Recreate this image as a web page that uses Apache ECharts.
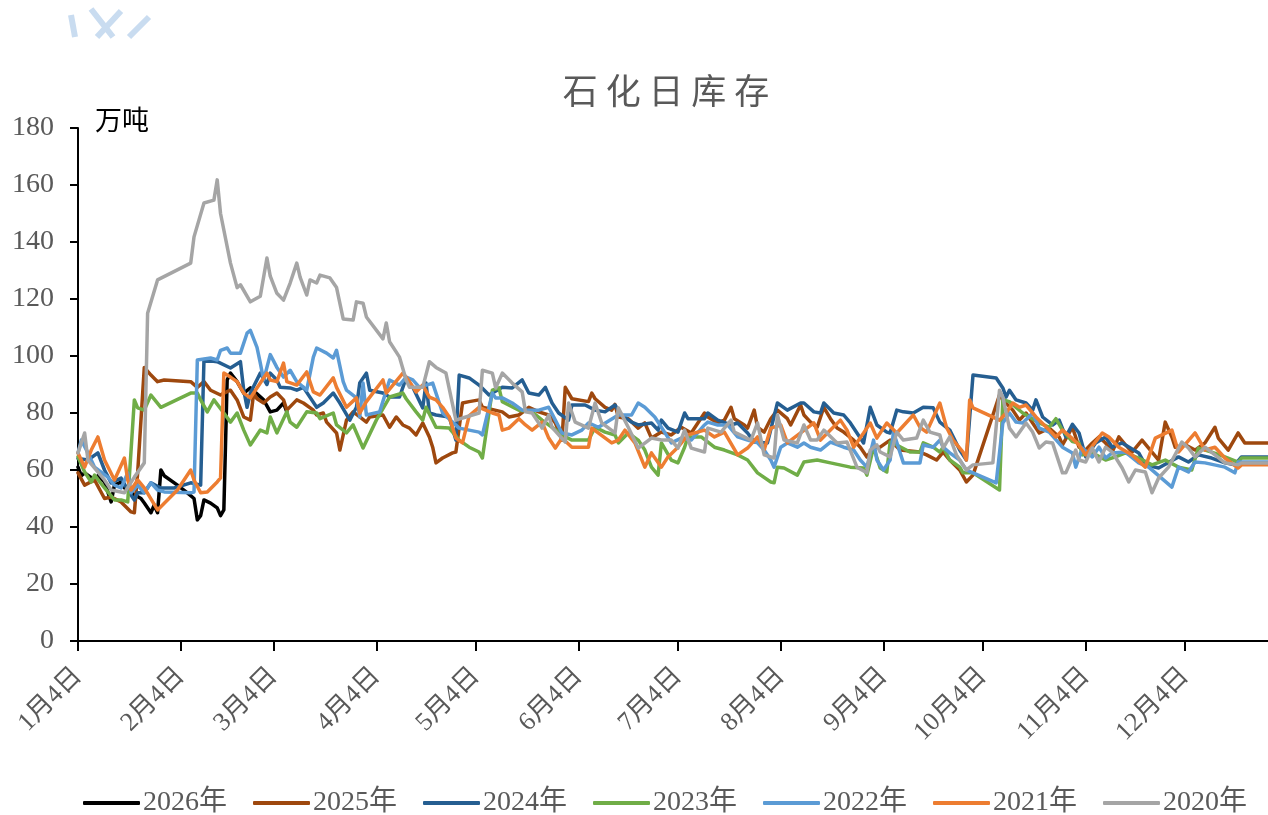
<!DOCTYPE html>
<html>
<head>
<meta charset="utf-8">
<script src="https://cdn.jsdelivr.net/npm/echarts@6/dist/echarts.min.js"></script>
<style>
  html, body { margin: 0; padding: 0; background: #fff; }
  #main { width: 1268px; height: 815px; }
</style>
</head>
<body>
<div id="main"></div>
<script>
// 横轴：距1月4日的天数；刻度标签
var tickDays = [0, 31, 59, 90, 120, 151, 181, 212, 243, 273, 304, 334];
var tickLabels = ['1月4日', '2月4日', '3月4日', '4月4日', '5月4日', '6月4日',
                  '7月4日', '8月4日', '9月4日', '10月4日', '11月4日', '12月4日'];
var yearNames = ['2026年', '2025年', '2024年', '2023年', '2022年', '2021年', '2020年'];
var yearColors = ['#000000', '#9E480E', '#255E91', '#70AD47', '#5B9BD5', '#ED7D31', '#A5A5A5'];

// 各年石化日库存（万吨），[天数, 数值]
var d2026 = [[0,61],[1,58],[2,59],[5,56.5],[6,58],[8,55.8],[10,48.8],[11,54.7],[13,55.8],[14,53.7],[16,52],[19,50],[20,48.4],[22,45],[23,47.7],[24,45],[25,60],[26,58],[30,54.7],[33,52],[35,50],[36,42.5],[37,44],[38,49.5],[40,48.4],[42,46.7],[43,44],[44,46],[45,91.6],[46,94],[48,91],[50,87],[52,88.8],[56,84.6],[58,80.4],[60,81],[62,83.5],[63,80.4]];

var d2025 = [[0,59],[2,54.7],[5,56.5],[8,50],[10,50.5],[13,48.8],[16,45.3],[17,45],[18,59],[20,96],[22,93.3],[24,91],[26,91.6],[34,91],[36,89],[38,91],[40,88],[43,86.3],[44,87],[46,88],[48,84.6],[50,78.6],[52,77.5],[53,87],[54,85],[56,83.5],[58,85.6],[60,87],[62,84.6],[63,81],[66,84.6],[68,83.5],[71,81],[72,79.3],[74,80],[75,76.8],[78,73],[79,67],[81,77.5],[83,80.4],[85,78.6],[87,76.8],[88,78.6],[92,79.3],[94,75],[96,78.6],[98,75.8],[100,74.7],[102,72.3],[104,76.5],[106,71.6],[107,68],[108,62.5],[110,64.2],[113,66],[114,66.3],[116,83.5],[118,84],[121,84.6],[122,82],[128,80.4],[130,78.6],[133,79.3],[136,82],[139,80.4],[142,79.3],[144,76.5],[146,70.5],[147,89],[149,85],[154,84],[155,87],[156,85],[159,82],[161,81],[162,83],[163,78.6],[166,78],[169,74.7],[171,76.5],[173,71.2],[176,73.3],[179,72.3],[182,75],[185,73],[189,80],[190,78.6],[193,76.5],[195,77.5],[197,82],[198,78],[201,75.8],[202,74.7],[204,81],[205,75],[207,73.3],[209,78],[211,81],[214,78],[215,75.8],[218,82.8],[219,79.3],[221,76.8],[223,75],[225,82],[227,78],[229,74.7],[231,73.3],[234,70.5],[236,68],[238,64.6],[240,68],[242,68],[245,70.5],[248,67],[254,66.3],[256,65.3],[259,63.5],[261,66.3],[263,63.5],[266,60],[268,55.8],[270,58.2],[278,86.3],[279,84.6],[282,81],[284,77.5],[286,80],[288,76.5],[290,73],[293,74.7],[296,71.6],[297,68.8],[300,75],[302,68],[304,67],[306,69.5],[308,71.6],[310,69.5],[312,66.3],[314,71.6],[316,68.8],[318,66.3],[321,70.5],[324,66.3],[326,63.5],[328,76.8],[330,71.6],[331,68],[334,68.8],[337,67],[340,69.5],[343,75],[344,71.2],[347,67],[350,73],[352,69.5],[359,69.5]];

var d2024 = [[0,64],[3,63.5],[6,66],[8,60],[10,55.5],[13,57.2],[15,53],[17,49.5],[18,52],[20,52],[22,55.5],[25,53.7],[29,53.7],[34,55.5],[37,54.7],[38,98.6],[42,98],[46,95.8],[49,98],[50,88],[51,82],[52,87],[55,94],[57,90],[58,94],[60,91.6],[61,89],[64,88.8],[66,88],[68,89],[72,82],[74,83.5],[77,87],[79,83.5],[82,77.5],[84,82],[85,90.5],[87,94],[88,88],[92,87],[94,85.6],[97,85.6],[99,92.3],[101,89],[104,81.8],[105,90.5],[106,80],[108,79.3],[112,78.6],[114,70.5],[115,93.3],[118,92.3],[121,89.8],[124,86.3],[128,89],[131,88.8],[134,91.6],[136,87],[139,86.3],[141,89],[143,83.5],[145,80],[148,77.5],[149,82.8],[153,82.8],[156,81],[159,80.4],[162,82.8],[164,79.3],[167,76.8],[169,75.8],[173,76.5],[175,74],[176,77.5],[178,74.7],[181,73.3],[183,80],[184,78],[189,78],[190,80],[193,77.5],[197,75.8],[199,76.5],[202,73],[204,69.8],[208,69.5],[211,83.5],[214,81],[218,83.5],[219,83.5],[222,80.4],[224,80],[225,83.5],[228,80],[231,79.3],[233,76.5],[237,69.5],[239,82],[241,75.8],[244,73.3],[245,73],[247,81],[249,80.4],[252,80],[255,82],[258,81.8],[260,76.8],[263,74],[266,67],[268,63.5],[270,93.3],[277,92.3],[279,88.8],[280,85.6],[281,88],[283,84.6],[286,83.5],[288,81],[289,84.6],[291,78.6],[294,75.8],[296,77.5],[298,71.6],[300,76],[302,73],[304,64.6],[307,69.5],[310,71.6],[312,68],[315,69.5],[320,66],[322,61.8],[326,60.7],[332,64.6],[335,62.8],[338,65.3],[342,64.2],[346,62.5],[349,61.8],[351,64.6],[359,64.6]];

var d2023 = [[0,64.6],[2,59.3],[4,55.8],[5,58.2],[8,53.7],[11,49.5],[13,49.5],[15,48.8],[17,84.6],[18,81.8],[20,81],[22,86.3],[25,82],[34,87],[36,87],[37,84.6],[39,80.4],[41,84.6],[44,80],[46,76.8],[48,80],[50,74],[52,68.8],[55,74],[57,73],[58,78.6],[60,73],[63,80.4],[64,76.8],[66,75],[69,80.4],[72,80],[73,78],[77,80],[78,75.8],[81,73],[83,75.8],[86,67.7],[90,77.5],[94,85.6],[98,87],[99,85],[102,80.4],[104,77.5],[105,82],[108,75],[112,74.7],[115,70.5],[118,68],[121,66.3],[122,64.2],[125,88],[127,88.8],[128,84],[133,81],[137,80.4],[140,77.5],[143,75],[146,72.3],[149,70.5],[154,70.5],[156,75],[159,73.3],[162,72.3],[163,69.5],[166,73],[169,70.5],[171,67],[173,61],[175,58.2],[176,69.5],[179,63.5],[181,62.5],[183,68],[184,71.6],[188,71.6],[192,68],[195,67],[199,65.3],[202,63.5],[205,59],[209,55.8],[210,55.5],[211,61],[213,60.7],[217,58.2],[219,62.8],[223,63.5],[227,62.5],[233,61],[237,60.7],[238,58.2],[240,68],[242,60.7],[244,59.3],[245,69.8],[247,68.8],[251,66.3],[254,66.3],[255,69.5],[258,68],[260,66.3],[261,68],[263,63.5],[266,61],[267,59],[270,59],[278,53],[279,84.6],[281,84],[283,82],[285,80],[290,76.5],[293,75],[295,78],[297,74],[300,70],[302,69.5],[303,65.3],[306,66],[310,63.5],[313,64.6],[316,66],[320,64.2],[324,61.8],[328,63.5],[332,61],[336,60],[338,67.7],[342,66.3],[346,64.6],[350,62.8],[351,64.2],[359,64.2]];

var d2022 = [[0,66],[1,70.5],[3,66],[5,61],[9,57.5],[11,54.7],[13,53.7],[15,59],[16,52],[18,54.7],[20,52],[22,55.5],[24,53],[26,52.3],[34,52],[35,52.3],[36,98.6],[40,99.3],[42,98.6],[43,102],[45,102.8],[46,101],[49,101],[51,108],[52,109],[54,103],[55,97.5],[56,91.6],[58,100.5],[60,96],[62,92.6],[64,95],[66,91],[69,88],[71,99.6],[72,102.8],[75,101],[77,99.3],[78,102],[80,91],[81,88],[84,85.3],[85,78.6],[86,90.5],[87,79.3],[91,80.4],[94,91.6],[97,89.8],[99,92.6],[101,91.6],[103,89],[107,90.5],[110,80],[115,74.7],[118,74],[121,73.3],[122,72.3],[125,87],[126,85.3],[128,85.3],[131,83.5],[134,81],[137,81],[139,81],[142,82],[144,77.5],[146,73],[149,72.3],[152,74],[154,76.5],[157,75],[163,79.3],[167,79.3],[169,83.5],[171,82],[174,78.6],[176,75],[179,69.5],[182,71.2],[185,70.5],[189,75.8],[190,76.8],[193,75.8],[196,75.8],[199,71.6],[202,70.5],[205,69.5],[207,67],[209,63.5],[210,61],[212,68],[214,69.5],[217,68],[219,69.5],[221,68],[224,67],[227,69.8],[231,68],[234,67],[236,63.5],[238,61],[240,70.5],[241,63.5],[243,60],[245,63.5],[246,73.3],[249,62.5],[254,62.5],[255,68.8],[258,68],[260,70.5],[261,68],[263,66],[266,63.5],[268,60],[270,59],[277,55.5],[279,76.5],[281,80],[283,76.8],[285,76.5],[288,80],[290,74.7],[293,73.3],[297,68],[300,66],[301,61],[303,67.7],[306,64.6],[308,68],[310,64.2],[312,66],[316,66.3],[320,62.5],[323,61],[330,54],[332,61],[335,59.3],[337,62.8],[340,62.5],[346,61],[349,59],[350,62.8],[359,62.8]];

var d2021 = [[0,66],[2,61],[4,67],[6,71.6],[8,63.5],[11,56.5],[12,59],[14,64.2],[15,56.5],[16,53],[18,56.5],[20,53.7],[24,46],[27,49.5],[30,53],[34,60],[35,56.5],[37,52],[39,52.3],[42,55.8],[43,57.2],[44,94],[46,92.6],[48,91],[50,87],[52,85.3],[55,90.5],[57,94],[58,91.6],[60,91],[62,97.5],[63,91],[66,89.8],[69,94.4],[71,87.4],[73,86.3],[77,92.3],[78,89],[81,82],[84,85.3],[85,80],[87,84],[92,91.6],[93,87],[98,94],[100,91],[102,87.4],[104,89.8],[106,85.6],[108,84.6],[110,82],[112,78.6],[114,71.2],[116,69.5],[118,79],[121,82],[123,81],[125,80],[127,79.3],[128,74],[130,74.7],[133,78],[135,75.8],[137,74],[140,76.8],[142,71.2],[144,67.7],[146,71.2],[149,68],[154,68],[155,74.7],[161,69.5],[163,70.5],[165,74],[168,69.5],[171,61],[173,66],[176,61],[178,64.6],[181,68],[184,72.3],[189,74],[192,71.6],[195,73.3],[199,65.3],[202,67.7],[205,71.6],[207,67],[209,74.7],[212,75.8],[214,69.5],[222,76.5],[224,70.5],[227,74],[230,77.5],[232,74],[234,68],[237,73],[239,76.5],[241,71.2],[244,76.5],[247,73],[252,79.3],[254,75],[256,73.3],[260,83.5],[262,75],[264,70.5],[267,66.3],[268,63.5],[269,84.6],[270,81.8],[278,77.5],[280,80],[282,83.5],[284,82],[286,82.8],[289,78.6],[293,74],[295,71.6],[297,74],[300,71],[302,68.8],[304,65.3],[309,73],[311,71.6],[314,68],[318,65.3],[322,61],[325,71.2],[330,74],[332,66.3],[337,73],[340,67],[343,68],[346,64.2],[350,60.7],[351,61.8],[359,61.8]];

var d2020 = [[0,66],[2,73],[3,63.5],[8,56.5],[10,53],[14,52],[17,57.5],[20,62.5],[21,115],[24,126.7],[34,132.6],[35,141.8],[38,153.7],[41,154.7],[42,161.8],[43,150],[46,132.6],[48,124],[49,125],[52,119],[55,121],[57,134.4],[58,128],[60,122],[62,119.6],[64,125.6],[66,132.6],[67,127.7],[69,121.4],[70,126.7],[72,125.6],[73,128.4],[76,127.4],[78,124],[80,113],[83,112.6],[84,119],[86,118.5],[87,113.7],[92,106],[93,111.6],[94,105],[97,99.6],[99,91.6],[100,89],[104,89],[106,98],[108,96],[111,94],[114,77.5],[117,78.6],[121,80],[122,95],[125,94],[126,88.8],[128,94],[131,90.5],[134,87.4],[135,80.4],[137,80],[140,74.7],[142,79.3],[143,75],[147,69.8],[148,83.5],[150,76.8],[154,74.7],[156,83.5],[158,76.5],[162,73],[163,81.8],[166,75],[169,67.7],[173,71.2],[176,70.5],[179,70.5],[181,67.7],[183,74],[185,67.7],[189,66.3],[190,74.7],[194,73.3],[197,77.5],[198,73.3],[203,70.5],[205,76.5],[207,65.3],[210,64.2],[211,79.3],[213,70.5],[217,69.5],[219,75.8],[221,70.5],[223,70.5],[225,74],[229,69.5],[232,69.8],[235,61],[238,59],[239,67],[241,68.8],[242,66.3],[245,64.6],[247,73.3],[249,70.5],[253,71.2],[255,77.5],[257,73.3],[260,72.3],[261,67.7],[263,71.6],[265,65.3],[268,60],[270,61.8],[276,62.5],[278,88],[279,85.6],[281,74.7],[283,71.6],[286,76.5],[288,73.3],[290,67.7],[292,69.8],[294,69.5],[297,59],[298,59],[301,67],[302,63.5],[304,62.8],[306,67.7],[308,62.8],[310,68],[312,66.3],[315,60.7],[317,55.8],[319,60],[322,59.3],[324,52],[326,57.2],[329,61],[333,69.8],[335,67.7],[337,64.6],[340,68],[343,65.3],[346,62.5],[350,61.8],[351,62.5],[359,62.5]];

var yearData = [d2026, d2025, d2024, d2023, d2022, d2021, d2020];

function createChart() {
    var myChart = echarts.init(document.getElementById('main'));
    var serifFont = '"Liberation Serif", "Noto Sans CJK SC", serif';

    var series = [];
    for (var i = 0; i < yearNames.length; i++) {
        series.push({
            name: yearNames[i],
            type: 'line',
            data: yearData[i],
            showSymbol: false,
            symbol: 'none',
            lineStyle: { width: 3.5, color: yearColors[i], join: 'round', cap: 'round' },
            itemStyle: { color: yearColors[i] }
        });
    }

    var option = {
        animation: false,
        backgroundColor: '#ffffff',
        title: {
            text: '石 化 日 库 存',
            left: 661,
            top: 68,
            textAlign: 'center',
            textStyle: {
                color: '#595959',
                fontSize: 35,
                fontWeight: 'normal',
                fontFamily: '"Noto Sans CJK SC", sans-serif'
            }
        },
        legend: {
            bottom: -7,
            left: 78,
            icon: 'roundRect',
            itemWidth: 57,
            itemHeight: 4,
            itemGap: 26,
            data: yearNames,
            textStyle: {
                color: '#595959',
                fontSize: 28,
                fontFamily: serifFont,
                padding: [0, 0, 0, -2]
            }
        },
        grid: { left: 78, right: 0, top: 128, bottom: 174, containLabel: false },
        xAxis: {
            type: 'value',
            min: 0,
            max: 359,
            axisLine: { show: true, lineStyle: { color: '#000', width: 2 } },
            axisTick: { show: true, customValues: tickDays, length: 10, lineStyle: { color: '#000', width: 2 } },
            splitLine: { show: false },
            axisLabel: {
                customValues: tickDays,
                rotate: 45,
                margin: 31,
                color: '#595959',
                fontSize: 26,
                fontFamily: serifFont,
                formatter: function (v) {
                    var k = tickDays.indexOf(v);
                    return k >= 0 ? tickLabels[k] : '';
                }
            }
        },
        yAxis: {
            type: 'value',
            min: 0,
            max: 180,
            interval: 20,
            axisLine: { show: true, lineStyle: { color: '#000', width: 2 } },
            axisTick: { show: true, length: 8, lineStyle: { color: '#000', width: 2 } },
            splitLine: { show: false },
            axisLabel: {
                margin: 24,
                color: '#595959',
                fontSize: 28,
                fontFamily: serifFont
            }
        },
        graphic: [
            {
                type: 'text',
                left: 95,
                top: 106,
                style: { text: '万吨', fontSize: 27, fill: '#000', fontFamily: '"Noto Sans CJK SC", sans-serif' }
            },
            {
                type: 'group',
                left: 68,
                top: 6,
                children: [
                    { type: 'line', shape: { x1: 2, y1: 12, x2: 6, y2: 34 }, style: { stroke: '#c9dcf0', lineWidth: 6 } },
                    { type: 'line', shape: { x1: 22, y1: 6, x2: 44, y2: 34 }, style: { stroke: '#c9dcf0', lineWidth: 6 } },
                    { type: 'line', shape: { x1: 52, y1: 8, x2: 28, y2: 34 }, style: { stroke: '#c9dcf0', lineWidth: 6 } },
                    { type: 'line', shape: { x1: 80, y1: 14, x2: 60, y2: 34 }, style: { stroke: '#c9dcf0', lineWidth: 6 } }
                ]
            }
        ],
        series: series
    };

    myChart.setOption(option);
}

createChart();
</script>
</body>
</html>
